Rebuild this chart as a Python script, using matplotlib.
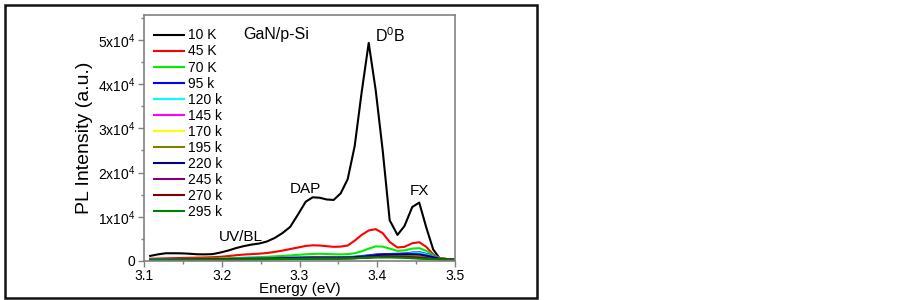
import matplotlib
matplotlib.use("Agg")
import matplotlib.pyplot as plt
from matplotlib.patches import Rectangle
from matplotlib.ticker import FixedLocator

plt.rcParams["font.family"] = ["Liberation Sans", "DejaVu Sans"]
plt.rcParams["mathtext.fontset"] = "custom"
plt.rcParams["mathtext.rm"] = "Liberation Sans"
plt.rcParams["mathtext.it"] = "Liberation Sans"

# energy grid of the strong spectra (eV)
energy = [3.108, 3.118, 3.128, 3.138, 3.148, 3.158, 3.168, 3.178, 3.188, 3.198,
          3.208, 3.218, 3.228, 3.238, 3.248, 3.258, 3.268, 3.278, 3.288, 3.298,
          3.308, 3.317, 3.326, 3.335, 3.344, 3.353, 3.362, 3.371, 3.380, 3.389,
          3.398, 3.407, 3.416, 3.426, 3.435, 3.445, 3.454, 3.463, 3.472, 3.480,
          3.490, 3.500]

pl_10k = [1150, 1500, 1750, 1750, 1730, 1650, 1520, 1500, 1550, 1900,
          2350, 2900, 3350, 3700, 3950, 4400, 5200, 6300, 7700, 10500,
          13400, 14400, 14300, 13900, 13800, 15300, 18500, 26000, 38200, 49300,
          38600, 25000, 9200, 5900, 7900, 12200, 13200, 7600, 2600, 650,
          400, 380]
pl_45k = [520, 560, 600, 640, 680, 720, 760, 800, 850, 950,
          1100, 1300, 1450, 1550, 1650, 1800, 2050, 2350, 2700, 3050,
          3400, 3550, 3500, 3350, 3200, 3250, 3500, 4600, 5900, 6900,
          7200, 6300, 4300, 3050, 3200, 4000, 4250, 3200, 1500, 700,
          450, 400]
pl_70k = [350, 380, 400, 420, 450, 480, 500, 520, 550, 580,
          620, 680, 750, 820, 880, 950, 1050, 1150, 1250, 1400,
          1500, 1600, 1620, 1580, 1520, 1500, 1550, 1750, 2200, 2800,
          3300, 3250, 2800, 2300, 2400, 2800, 2900, 2300, 1300, 650,
          420, 380]

# coarser grid for the weak spectra (eV)
energy_low = [3.108, 3.15, 3.20, 3.25, 3.30, 3.32, 3.35, 3.37, 3.39, 3.40,
              3.42, 3.435, 3.445, 3.455, 3.465, 3.475, 3.482, 3.49, 3.50]

pl_95k = [300, 350, 450, 600, 800, 900, 850, 950, 1300, 1500, 1600, 1700, 1900, 1950, 1500, 900, 450, 350, 330]
pl_120k = [280, 330, 420, 560, 750, 820, 780, 880, 1150, 1300, 1450, 1600, 1750, 1800, 1400, 850, 430, 340, 320]
pl_145k = [260, 300, 380, 500, 650, 720, 700, 780, 1000, 1150, 1300, 1400, 1500, 1450, 1150, 750, 420, 330, 310]
pl_170k = [250, 290, 360, 470, 600, 660, 650, 720, 950, 1100, 1250, 1350, 1400, 1300, 1050, 700, 400, 330, 310]
pl_195k = [240, 280, 340, 440, 560, 620, 610, 680, 900, 1050, 1150, 1150, 1100, 1000, 850, 600, 380, 320, 300]
pl_220k = [270, 320, 400, 520, 700, 780, 760, 850, 1150, 1350, 1500, 1550, 1550, 1450, 1150, 750, 420, 340, 320]
pl_245k = [230, 270, 330, 420, 540, 600, 600, 660, 850, 950, 1000, 950, 850, 750, 600, 450, 350, 310, 300]
pl_270k = [220, 260, 320, 400, 500, 560, 570, 630, 800, 880, 900, 850, 750, 650, 520, 420, 340, 310, 300]
pl_295k = [210, 250, 300, 380, 470, 520, 540, 600, 760, 820, 800, 720, 620, 520, 440, 380, 330, 310, 300]

labels = ["10 K", "45 K", "70 K", "95 k", "120 k", "145 k", "170 k",
          "195 k", "220 k", "245 k", "270 k", "295 k"]
colors = ["#000000", "#ff0000", "#00ee00", "#0000ff", "#00ffff", "#ff00ff",
          "#ffff00", "#808000", "#000080", "#800080", "#800000", "#008000"]
series = [(energy, pl_10k), (energy, pl_45k), (energy, pl_70k),
          (energy_low, pl_95k), (energy_low, pl_120k), (energy_low, pl_145k),
          (energy_low, pl_170k), (energy_low, pl_195k), (energy_low, pl_220k),
          (energy_low, pl_245k), (energy_low, pl_270k), (energy_low, pl_295k)]

x_ticks = [3.1, 3.2, 3.3, 3.4, 3.5]
y_ticks = [0, 10000, 20000, 30000, 40000, 50000]

fig = plt.figure(figsize=(9.02, 3.0), dpi=100)
ax = fig.add_axes([144 / 902, 1 - 261 / 300, 311 / 902, 246 / 300])

for (x, y), lab, col in zip(series, labels, colors):
    ax.plot(x, y, color=col, lw=1.5, label=lab)

ax.set_xlim(3.1, 3.5)
ax.set_ylim(0, 55600)
ax.xaxis.set_major_locator(FixedLocator(x_ticks))
ax.xaxis.set_minor_locator(FixedLocator([3.15, 3.25, 3.35, 3.45]))
ax.yaxis.set_major_locator(FixedLocator(y_ticks))
ax.yaxis.set_minor_locator(FixedLocator([5000, 15000, 25000, 35000, 45000, 55000]))
ax.set_xticklabels([f"{v:.1f}" for v in x_ticks])
ax.set_yticklabels(["0"] + [rf"{i}x10$^4$" for i in range(1, 6)])

for side in ax.spines.values():
    side.set_color("#808080")
    side.set_linewidth(1.2)
ax.tick_params(which="major", direction="out", length=4, width=1.0, color="#808080",
               labelsize=10, pad=2)
ax.tick_params(which="minor", direction="out", length=2.5, width=1.0, color="#808080")
ax.tick_params(top=False, right=False, which="both")

ax.set_xlabel("Energy (eV)", fontsize=11, labelpad=-1)
ax.set_ylabel("PL Intensity (a.u.)", fontsize=14, labelpad=4)

ax.legend(loc="upper left", bbox_to_anchor=(0.0, 0.985), frameon=False, fontsize=10,
          handlelength=2.2, handletextpad=0.25, labelspacing=0.15, borderaxespad=0.3)

ax.text(3.270, 51200, "GaN/p-Si", fontsize=11.5, ha="center", va="center")
ax.text(3.417, 51000, r"D$^0$B", fontsize=11.5, ha="center", va="center")
ax.text(3.307, 16300, "DAP", fontsize=11, ha="center", va="center")
ax.text(3.4537, 15900, "FX", fontsize=11, ha="center", va="center")
ax.text(3.2244, 5400, "UV/BL", fontsize=11, ha="center", va="center")

fig.patches.append(Rectangle((5 / 902, 2 / 300), 532 / 902, 293 / 300,
                             transform=fig.transFigure, fill=False,
                             edgecolor="#111111", linewidth=1.8))

fig.savefig("out.png", dpi=100)
